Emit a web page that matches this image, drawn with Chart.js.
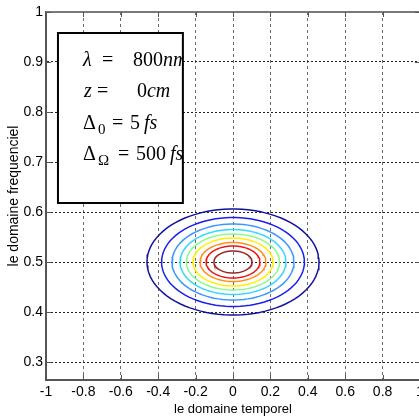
<!DOCTYPE html>
<html>
  <head>
    <meta charset="utf-8">
    <title>Contour</title>
    <script src="https://cdn.jsdelivr.net/npm/chart.js@4.4.0/dist/chart.umd.min.js"></script>
    <style>
      html, body { margin: 0; padding: 0; background: #fff; overflow: hidden; }
      #wrap { width: 419px; height: 418px; overflow: hidden; position: relative; }
      #myChart { position: absolute; left: 0; top: 0; }
    </style>
  </head>
  <body>
    <div id="wrap">
      <canvas id="myChart" width="440" height="418"></canvas>
    </div>

    <script type="text/javascript">
      // contour levels, outer to inner
      var levelColors = ['#12129c', '#1d1dee', '#3a96ff', '#30d8ff', '#8cf98c', '#fff000', '#ff8f1c', '#ee1414', '#9b2424'];
      var halfWidthX  = [0.460, 0.382, 0.326, 0.283, 0.249, 0.214, 0.176, 0.144, 0.102];
      var halfHeightY = [0.106, 0.089, 0.076, 0.065, 0.056, 0.048, 0.039, 0.032, 0.022];
      var centerX = 0;
      var centerY = 0.5;

      var xTicks = [-1, -0.8, -0.6, -0.4, -0.2, 0, 0.2, 0.4, 0.6, 0.8, 1];
      var yTicks = [0.3, 0.4, 0.5, 0.6, 0.7, 0.8, 0.9, 1];
      var xRange = [-1, 1];
      var yRange = [0.264, 1];

      var xTitle = 'le domaine temporel';
      var yTitle = 'le domaine frequenciel';

      // text box, corners in data units
      var boxX = [-0.936, -0.268];
      var boxY = [0.958, 0.618];

      // each line: [text, italic, subscript, dx from box left]
      var boxLines = [
        { dy: 33, parts: [['λ', true, false, 25], ['=', false, false, 44], ['800', false, false, 75], ['nm', true, false, 105]] },
        { dy: 64, parts: [['z', true, false, 26], ['=', false, false, 39], ['0', false, false, 79], ['cm', true, false, 89]] },
        { dy: 96, parts: [['Δ', false, false, 25], ['0', false, true, 40], ['=', false, false, 54], ['5', false, false, 72], ['fs', true, false, 86]] },
        { dy: 127, parts: [['Δ', false, false, 25], ['Ω', false, true, 40], ['=', false, false, 60], ['500', false, false, 78], ['fs', true, false, 112]] }
      ];

      var datasets = [];
      for (var i = 0; i < levelColors.length; i++) {
        var pts = [];
        for (var k = 0; k <= 90; k++) {
          var t = k / 90 * 2 * Math.PI;
          pts.push({ x: centerX + halfWidthX[i] * Math.cos(t), y: centerY + halfHeightY[i] * Math.sin(t) });
        }
        datasets.push({
          data: pts,
          showLine: true,
          borderColor: levelColors[i],
          borderWidth: 1.5,
          pointRadius: 0,
          fill: false,
          tension: 0
        });
      }

      var frame = {
        id: 'frame',
        beforeDatasetsDraw: function(chart) {
          var ctx = chart.ctx, a = chart.chartArea;
          var xs = chart.scales.x, ys = chart.scales.y;
          ctx.save();
          // top and right spines
          ctx.strokeStyle = '#7a7a7a';
          ctx.lineWidth = 2;
          ctx.beginPath();
          ctx.moveTo(a.left, a.top);
          ctx.lineTo(a.right, a.top);
          ctx.lineTo(a.right, a.bottom);
          ctx.stroke();
          // inward tick marks
          ctx.strokeStyle = '#555';
          ctx.lineWidth = 1;
          ctx.beginPath();
          xTicks.forEach(function(v) {
            var px = Math.round(xs.getPixelForValue(v)) + 0.5;
            ctx.moveTo(px, a.bottom); ctx.lineTo(px, a.bottom - 5);
            ctx.moveTo(px, a.top); ctx.lineTo(px, a.top + 5);
          });
          yTicks.forEach(function(v) {
            var py = Math.round(ys.getPixelForValue(v)) + 0.5;
            ctx.moveTo(a.left, py); ctx.lineTo(a.left + 5, py);
            ctx.moveTo(a.right, py); ctx.lineTo(a.right - 5, py);
          });
          ctx.stroke();
          ctx.restore();
        },
        afterDatasetsDraw: function(chart) {
          var ctx = chart.ctx;
          var xs = chart.scales.x, ys = chart.scales.y;
          var l = xs.getPixelForValue(boxX[0]), r = xs.getPixelForValue(boxX[1]);
          var t = ys.getPixelForValue(boxY[0]), b = ys.getPixelForValue(boxY[1]);
          ctx.save();
          ctx.fillStyle = '#fff';
          ctx.fillRect(l, t, r - l, b - t);
          ctx.beginPath();
          ctx.rect(l, t, r - l + 1, b - t);
          ctx.clip();
          ctx.fillStyle = '#000';
          ctx.textBaseline = 'alphabetic';
          boxLines.forEach(function(line) {
            line.parts.forEach(function(p) {
              var size = p[2] ? 15 : 20;
              ctx.font = (p[1] ? 'italic ' : '') + size + 'px "Liberation Serif", "Times New Roman", serif';
              ctx.fillText(p[0], l + p[3], t + line.dy + (p[2] ? 5 : 0));
            });
          });
          ctx.restore();
          ctx.save();
          ctx.strokeStyle = '#000';
          ctx.lineWidth = 2;
          ctx.strokeRect(l, t, r - l, b - t);
          ctx.restore();
        }
      };

      var fmt = function(v) { return String(Number(Number(v).toFixed(1))); };
      var narrow = '"Liberation Sans Narrow", "Arial Narrow", "Liberation Sans", sans-serif';

      var ctx = document.getElementById('myChart').getContext('2d');
      var chart = new Chart(ctx, {
        type: 'scatter',
        data: { datasets: datasets },
        options: {
          responsive: false,
          animation: false,
          devicePixelRatio: 1,
          layout: { padding: { left: 0, right: 20, top: 12, bottom: 0 } },
          plugins: { legend: { display: false }, tooltip: { enabled: false } },
          scales: {
            x: {
              type: 'linear',
              min: xRange[0],
              max: xRange[1],
              afterBuildTicks: function(s) { s.ticks = xTicks.map(function(v) { return { value: v }; }); },
              afterFit: function(s) { s.height = 38; },
              grid: { color: '#6a6a6a', lineWidth: 1, drawTicks: false },
              border: { display: true, color: '#555', width: 2, dash: [3, 3] },
              ticks: {
                color: '#000',
                padding: 4,
                maxRotation: 0,
                autoSkip: false,
                font: { family: narrow, size: 14 },
                callback: fmt
              },
              title: {
                display: true,
                text: xTitle,
                color: '#000',
                padding: { top: 0, bottom: 1 },
                font: { family: narrow, size: 13 }
              }
            },
            y: {
              type: 'linear',
              min: yRange[0],
              max: yRange[1],
              afterBuildTicks: function(s) { s.ticks = yTicks.map(function(v) { return { value: v }; }); },
              afterFit: function(s) { s.width = 46; },
              grid: { color: '#222', lineWidth: 1, drawTicks: false },
              border: { display: true, color: '#555', width: 2, dash: [2, 2] },
              ticks: {
                color: '#000',
                padding: 3,
                autoSkip: false,
                font: { family: narrow, size: 14 },
                callback: fmt
              },
              title: {
                display: true,
                text: yTitle,
                color: '#000',
                padding: { top: 6, bottom: 0 },
                font: { family: '"Liberation Sans", Arial, sans-serif', size: 14 }
              }
            }
          }
        },
        plugins: [frame]
      });
    </script>
  </body>
</html>
